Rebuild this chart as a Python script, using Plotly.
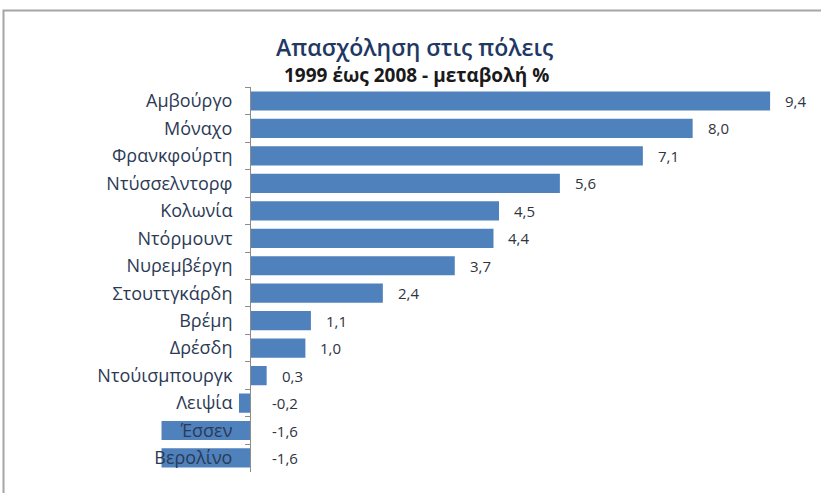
import plotly.graph_objects as go

cities = ["Αμβούργο", "Μόναχο", "Φρανκφούρτη", "Ντύσσελντορφ", "Κολωνία", "Ντόρμουντ",
          "Νυρεμβέργη", "Στουττγκάρδη", "Βρέμη", "Δρέσδη", "Ντούισμπουργκ", "Λειψία",
          "Έσσεν", "Βερολίνο"]
change = [9.4, 8.0, 7.1, 5.6, 4.5, 4.4, 3.7, 2.4, 1.1, 1.0, 0.3, -0.2, -1.6, -1.6]
title_text = "Απασχόληση στις πόλεις"
subtitle_text = "1999 έως 2008 - μεταβολή %"

W, H = 821, 493
x_range = [-4.52, 10.32]
zero_pos = (0 - x_range[0]) / (x_range[1] - x_range[0])

FONT = "'Open Sans', 'Noto Sans', sans-serif"
BAR = "#4F81BD"

fig = go.Figure(go.Bar(
    x=change, y=cities, orientation="h", width=0.7,
    marker=dict(color=BAR, line=dict(width=0)),
    hoverinfo="skip",
))

annotations = []
for c, v in zip(cities, change):
    annotations.append(dict(
        x=max(v, 0), y=c, xref="x", yref="y",
        text=f"{v:.1f}".replace(".", ","),
        showarrow=False, xanchor="left", yanchor="middle",
        xshift=13 if v > 0 else 20,
        font=dict(family=FONT, size=15, color="#2E3440"),
    ))

annotations.append(dict(x=0.505, y=0.905, xref="paper", yref="paper", text=title_text,
                        showarrow=False, xanchor="center", yanchor="middle",
                        font=dict(family=FONT, size=23, color="#1F3864", weight=600)))
annotations.append(dict(x=0.507, y=0.848, xref="paper", yref="paper", text=subtitle_text,
                        showarrow=False, xanchor="center", yanchor="middle",
                        font=dict(family=FONT, size=19, color="#1A1A1A", weight=700)))

fig.update_layout(
    width=W, height=H,
    margin=dict(l=0, r=0, t=0, b=0),
    paper_bgcolor="white", plot_bgcolor="white",
    showlegend=False,
    bargap=0.3,
    xaxis=dict(range=x_range, domain=[0, 1], visible=False, showgrid=False, zeroline=False),
    yaxis=dict(
        domain=[0.0432, 0.823], autorange="reversed", anchor="free", position=zero_pos,
        showline=True, linecolor="#8C8C8C", linewidth=1,
        ticks="outside", tickson="boundaries", ticklen=5, tickcolor="#8C8C8C",
        ticklabelstandoff=14,
        tickfont=dict(family=FONT, size=18, color="#2B3A55"),
        showgrid=False, zeroline=False,
    ),
    annotations=annotations,
    shapes=[dict(type="rect", xref="paper", yref="paper",
                 x0=3.5 / W, x1=1.05, y0=-0.05, y1=(H - 10.5) / H,
                 line=dict(color="#A6A6A6", width=2), fillcolor="rgba(0,0,0,0)", layer="below")],
)

fig.write_html("out.html", config={"displayModeBar": False},
               post_script="document.body.style.margin='0';")
